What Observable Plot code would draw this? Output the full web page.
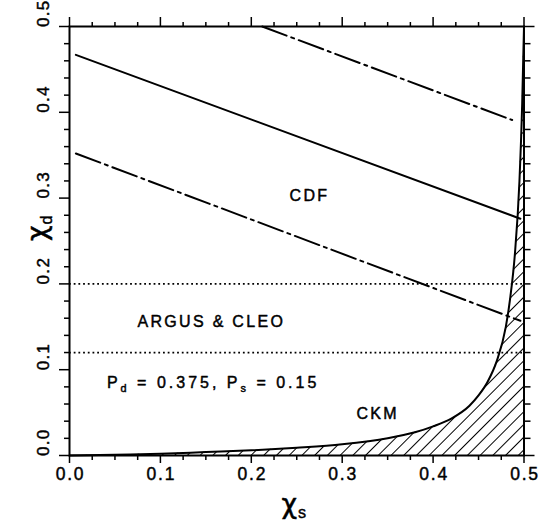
<!DOCTYPE html>
<html>
<head>
<meta charset="utf-8">
<script src="https://cdn.jsdelivr.net/npm/d3@7"></script>
<script src="https://cdn.jsdelivr.net/npm/@observablehq/plot@0.6"></script>
<style>
  html, body { margin: 0; padding: 0; background: #fff; }
  svg { display: block; }
</style>
</head>
<body>
<div id="chart"></div>
<script>
// ---- data ----
// CKM boundary curve (chi_s, chi_d)
const ckmChiS = [0, 0.05, 0.1, 0.15, 0.2, 0.25, 0.3, 0.35, 0.38, 0.4, 0.42, 0.44, 0.45, 0.46, 0.47, 0.48, 0.485, 0.49, 0.495, 0.498, 0.5];
const ckmChiD = [0, 0.001, 0.002, 0.004, 0.006, 0.009, 0.013, 0.02, 0.027, 0.034, 0.043, 0.058, 0.07, 0.086, 0.11, 0.15, 0.185, 0.235, 0.32, 0.41, 0.5];

// CDF band: central value (solid) and +/- 1 sigma (dash-dot), endpoints
const cdfCentralS = [0.007, 0.496];
const cdfCentralD = [0.467, 0.276];
const cdfLowS = [0.007, 0.496];
const cdfLowD = [0.352, 0.157];
const cdfHighS = [0.212, 0.487];
const cdfHighD = [0.5, 0.391];

// ARGUS & CLEO band limits (dotted)
const argusCleo = [0.12, 0.2];

// text annotations
const noteText = ["CDF", "ARGUS & CLEO", "P_{d} = 0.375, P_{s} = 0.15", "CKM"];
const noteS = [0.264, 0.156, 0.158, 0.339];
const noteD = [0.303, 0.156, 0.085, 0.049];

// ticks
const xMajor = [0, 0.1, 0.2, 0.3, 0.4, 0.5];
const yMajor = [0, 0.1, 0.2, 0.3, 0.4, 0.5];
const xMinor = d3.range(0, 0.5001, 0.025).filter(v => Math.abs(v * 10 - Math.round(v * 10)) > 1e-6);
const yMinor = d3.range(0, 0.5001, 0.02).filter(v => Math.abs(v * 10 - Math.round(v * 10)) > 1e-6);
const yRight = d3.range(0.02, 0.4801, 0.02);

const ckm = ckmChiS.map((s, i) => ({s, d: ckmChiD[i]}));
const toPts = (S, D) => S.map((s, i) => ({s, d: D[i]}));
const notes = noteText.map((text, i) => ({text, s: noteS[i], d: noteD[i]}));

const font = "Liberation Sans, Arial, Helvetica, sans-serif";
const fmt = d3.format(".1f");
const inkText = {fill: "#000", stroke: "#000", strokeWidth: 0.45};

const plot = Plot.plot({
  width: 545,
  height: 527,
  marginLeft: 69,
  marginRight: 21.5,
  marginTop: 26,
  marginBottom: 72,
  style: {fontFamily: font, fontSize: "16px", background: "#fff", color: "#000"},
  x: {domain: [0, 0.5], axis: null},
  y: {domain: [0, 0.5], axis: null},
  marks: [
    // hatched CKM region
    Plot.areaY(ckm, {x: "s", y: "d", curve: "monotone-x", fill: "url(#hatch)"}),
    Plot.line(ckm, {x: "s", y: "d", curve: "monotone-x", stroke: "#000", strokeWidth: 2}),
    // ARGUS & CLEO dotted limits
    Plot.ruleY(argusCleo, {stroke: "#000", strokeWidth: 1.8, strokeDasharray: "1.8,2.9"}),
    // CDF lines
    Plot.line(toPts(cdfCentralS, cdfCentralD), {x: "s", y: "d", stroke: "#000", strokeWidth: 2}),
    Plot.line(toPts(cdfLowS, cdfLowD), {x: "s", y: "d", stroke: "#000", strokeWidth: 2, strokeDasharray: "26,5,3,5"}),
    Plot.line(toPts(cdfHighS, cdfHighD), {x: "s", y: "d", stroke: "#000", strokeWidth: 2, strokeDasharray: "26,5,3,5"}),
    // frame
    Plot.frame({stroke: "#000", strokeWidth: 2}),
    // bottom axis ticks
    Plot.axisX({anchor: "bottom", ticks: xMajor, tickSize: 8, tickFormat: () => "", strokeWidth: 1.5, label: null}),
    Plot.axisX({anchor: "bottom", ticks: xMinor, tickSize: 5, tickFormat: () => "", strokeWidth: 1.5, label: null}),
    // top axis ticks
    Plot.axisX({anchor: "top", ticks: xMajor, tickSize: 10, tickFormat: () => "", strokeWidth: 1.5, label: null}),
    Plot.axisX({anchor: "top", ticks: xMinor, tickSize: 5, tickFormat: () => "", strokeWidth: 1.5, label: null}),
    // left axis ticks
    Plot.axisY({anchor: "left", ticks: yMajor, tickSize: 10, tickFormat: () => "", strokeWidth: 1.5, label: null}),
    Plot.axisY({anchor: "left", ticks: yMinor, tickSize: 5, tickFormat: () => "", strokeWidth: 1.5, label: null}),
    // right axis ticks
    Plot.axisY({anchor: "right", ticks: [0, 0.5], tickSize: 10, tickFormat: () => "", strokeWidth: 1.5, label: null}),
    Plot.axisY({anchor: "right", ticks: yRight, tickSize: 6, tickFormat: () => "", strokeWidth: 1.5, label: null}),
    // tick labels
    Plot.text(xMajor, {x: d => d, text: d => fmt(d), frameAnchor: "bottom", dx: 1, dy: 19, lineAnchor: "middle", fontSize: 17.5, ...inkText}),
    Plot.text(yMajor, {y: d => d, text: d => fmt(d), frameAnchor: "left", dx: -26, dy: 0.5, rotate: -90, lineAnchor: "middle", fontSize: 17, ...inkText}),
    // annotations
    Plot.text(notes, {x: "s", y: "d", text: "text", fontSize: 16, ...inkText}),
    // axis titles
    Plot.text(["χ_{s}"], {frameAnchor: "bottom", dx: -3, dy: 57, fontSize: 27, fontFamily: "DejaVu Sans", ...inkText, strokeWidth: 0.5}),
    Plot.text(["χ_{d}"], {frameAnchor: "left", dx: -32, dy: 0, rotate: -90, fontSize: 27, fontFamily: "DejaVu Sans", ...inkText, strokeWidth: 0.5})
  ]
});

// hatch pattern definition
const defs = d3.select(plot).insert("defs", ":first-child");
const pat = defs.append("pattern")
  .attr("id", "hatch")
  .attr("patternUnits", "userSpaceOnUse")
  .attr("width", 9)
  .attr("height", 9)
  .attr("patternTransform", "rotate(45)");
pat.append("line")
  .attr("x1", 4.5).attr("y1", -1).attr("x2", 4.5).attr("y2", 10)
  .attr("stroke", "#000").attr("stroke-width", 1);

document.getElementById("chart").appendChild(plot);

// wider tracking like the original typesetting
d3.select(plot).selectAll("text").each(function () {
  const s = this.textContent;
  if (/^\d\.\d$/.test(s)) this.setAttribute("letter-spacing", this.getAttribute("transform") && /rotate/.test(this.getAttribute("transform")) ? "1.3" : "1.8");
  else if (s.startsWith("P_{")) this.setAttribute("letter-spacing", "3");
  else if (noteText.includes(s)) this.setAttribute("letter-spacing", "2.3");
});

// subscripts: turn "_{x}" into real subscript tspans
d3.select(plot).selectAll("text").each(function () {
  const s = this.textContent;
  if (!s.includes("_{")) return;
  const fs = parseFloat(getComputedStyle(this).fontSize) || 16;
  const big = fs > 20;
  const shift = fs * (big ? 0.2 : 0.28);
  const subSize = fs * (big ? 0.6 : 0.68);
  this.textContent = "";
  const parts = s.split(/(_\{[^}]*\})/).filter(p => p.length);
  let lowered = false;
  for (const p of parts) {
    const m = p.match(/^_\{([^}]*)\}$/);
    const ts = d3.select(this).append("tspan");
    if (m) {
      ts.text(m[1]).attr("font-size", subSize).attr("dy", lowered ? 0 : shift);
      if (big) ts.attr("font-family", font).attr("dx", 1).attr("stroke-width", 0.4);
      lowered = true;
    } else {
      ts.text(p).attr("dy", lowered ? -shift : 0);
      lowered = false;
    }
  }
});
</script>
</body>
</html>
